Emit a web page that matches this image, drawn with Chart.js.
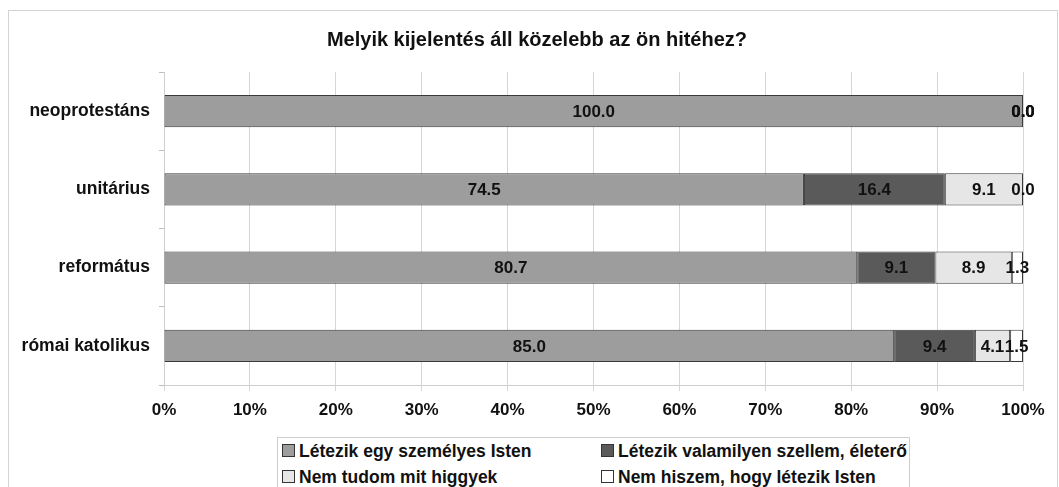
<!DOCTYPE html>
<html>
<head>
<meta charset="utf-8">
<script src="https://cdn.jsdelivr.net/npm/chart.js@4"></script>
<style>
  body { margin: 0; background: #fff; font-family: "Liberation Sans", Arial, sans-serif; }
  #wrap { position: relative; width: 1059px; height: 487px; overflow: hidden; }
  #frame { position: absolute; left: 8px; top: 10px; width: 1048px; height: 500px; border: 1px solid #d4d4d4; }
  canvas { position: absolute; left: 0; top: 0; }
  #title { position: absolute; left: 237px; width: 600px; top: 27px; text-align: center; font-weight: bold; font-size: 20px; line-height: 24px; color: #111; }
  #legend { position: absolute; left: 277px; top: 437px; width: 631px; height: 60px; border: 1px solid #cfcfcf; background: #fff; }
  .item { position: absolute; font-weight: bold; font-size: 17.5px; color: #111; white-space: nowrap; line-height: 20px; }
  .sw { display: inline-block; width: 11px; height: 11px; border: 1px solid #333; margin-right: 4px; vertical-align: 0px; }
</style>
</head>
<body>
<div id="wrap">
  <div id="frame"></div>
  <canvas id="chart" width="1059" height="487"></canvas>
  <div id="title"></div>
  <div id="legend"></div>
</div>
<script>
let title = 'Melyik kijelentés áll közelebb az ön hitéhez?'
let categories = ['neoprotestáns', 'unitárius', 'református', 'római katolikus']
let seriesNames = ['Létezik egy személyes Isten', 'Létezik valamilyen szellem, életerő', 'Nem tudom mit higgyek', 'Nem hiszem, hogy létezik Isten']
let personalGod = [100.0, 74.5, 80.7, 85.0]
let spirit = [0.0, 16.4, 9.1, 9.4]
let dontKnow = [0.0, 9.1, 8.9, 4.1]
let noGod = [0.0, 0.0, 1.3, 1.5]
let colors = ['#9d9d9d', '#5a5a5a', '#e6e6e6', '#ffffff']

let font = '"Liberation Sans", Arial, sans-serif'

document.getElementById('title').textContent = title

let valueLabels = {
    id: 'valueLabels',
    afterDatasetsDraw(chart) {
        let ctx = chart.ctx
        ctx.save()
        ctx.font = 'bold 17px ' + font
        ctx.fillStyle = '#111'
        ctx.textAlign = 'center'
        ctx.textBaseline = 'middle'
        chart.data.datasets.forEach((ds, i) => {
            chart.getDatasetMeta(i).data.forEach((bar, j) => {
                let p = bar.getCenterPoint()
                ctx.fillText(ds.data[j].toFixed(1), p.x, p.y + 1)
            })
        })
        ctx.restore()
    }
}

let allSeries = [personalGod, spirit, dontKnow, noGod]

new Chart(document.getElementById('chart'), {
    type: 'bar',
    data: {
        labels: categories,
        datasets: allSeries.map((d, i) => ({
            label: seriesNames[i],
            data: d,
            backgroundColor: colors[i],
            borderColor: '#3a3a3a',
            borderWidth: 1,
            borderSkipped: false,
            categoryPercentage: 0.41,
            barPercentage: 1
        }))
    },
    options: {
        indexAxis: 'y',
        responsive: false,
        animation: false,
        layout: { padding: { top: 72, right: 36, left: 0, bottom: 0 } },
        plugins: {
            legend: { display: false },
            tooltip: { enabled: false },
            title: { display: false }
        },
        scales: {
            x: {
                stacked: true,
                min: 0,
                max: 100,
                afterFit: (s) => { s.height = 102 },
                ticks: {
                    stepSize: 10,
                    padding: 9,
                    color: '#111',
                    font: { family: font, size: 17, weight: 'bold' },
                    callback: (v) => v + '%'
                },
                grid: { color: '#d6d6d6', tickLength: 6 },
                border: { color: '#cfcfcf' }
            },
            y: {
                stacked: true,
                afterFit: (s) => { s.width = 164 },
                ticks: {
                    padding: 9,
                    color: '#111',
                    font: { family: font, size: 17.5, weight: 'bold' }
                },
                grid: { drawOnChartArea: false, color: '#bdbdbd', tickLength: 5 },
                border: { color: '#cfcfcf' }
            }
        }
    },
    plugins: [valueLabels]
})

let legend = document.getElementById('legend')
let cols = [4, 323]
let rows = [3, 29]
seriesNames.forEach((name, i) => {
    let el = document.createElement('div')
    el.className = 'item'
    el.style.left = cols[i % 2] + 'px'
    el.style.top = rows[Math.floor(i / 2)] + 'px'
    el.innerHTML = '<span class="sw" style="background:' + colors[i] + '"></span>' + name
    legend.appendChild(el)
})
</script>
</body>
</html>
